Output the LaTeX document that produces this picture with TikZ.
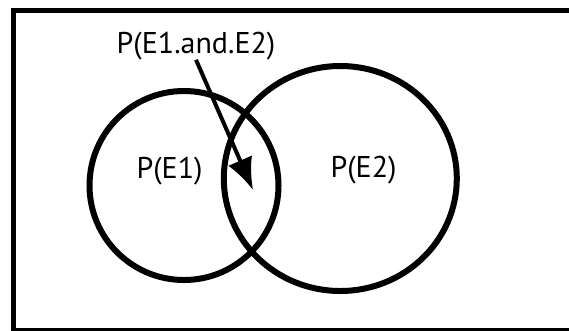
\documentclass[tikz,border=0pt]{standalone}
\usepackage{fontspec}
\setmainfont{PT Sans}
\usetikzlibrary{arrows.meta}
\tikzset{
  frame/.style={line width=5pt},
  setcircle/.style={line width=6pt},
  lbl/.style={inner sep=0pt, anchor=base, font=\fontsize{30}{36}\selectfont},
  pointer/.style={line width=4pt, -{Latex[length=32pt,width=26pt]}}
}
\begin{document}
\begin{tikzpicture}[x=1pt,y=-1pt]
\useasboundingbox (0,0) rectangle (569,330);
\clip (0,0) rectangle (569,330);
\fill[white] (0,0) rectangle (569,330);
\draw[frame] (13.5,10.5) rectangle (600,330.5);
\draw[setcircle] (184,185.5) circle (94.5pt);
\draw[setcircle] (340.3,178.5) ellipse [x radius=116.5pt, y radius=112.5pt];
\node[lbl] (e1) at (169.5,178) {P(E1)};
\node[lbl] (e2) at (363.5,177) {P(E2)};
\node[lbl] (lab) at (196,53) {P(E1.and.E2)};
\coordinate (tip) at (253,190);
\draw[pointer] (lab.south) -- (tip);
\end{tikzpicture}
\end{document}
